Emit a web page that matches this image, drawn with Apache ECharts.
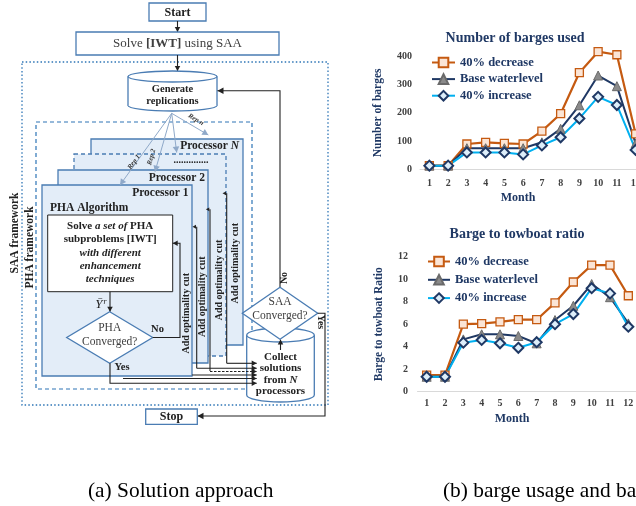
<!DOCTYPE html>
<html><head><meta charset="utf-8">
<script src="https://cdn.jsdelivr.net/npm/echarts/dist/echarts.min.js"></script>
<style>html,body{margin:0;padding:0;background:#fff}#c{width:636px;height:506px}</style>
</head><body><div id="c"></div>
<script>
// ---------- data ----------
const months = ['1','2','3','4','5','6','7','8','9','10','11','12'];
const seriesNames = ['40% decrease','Base waterlevel','40% increase'];
const bargesDecrease = [12,12,89,95,91,89,135,197,343,418,407,125];
const bargesBase     = [12,12,74,74,74,74,95,143,227,333,295,91];
const bargesIncrease = [12,12,59,59,59,52,84,113,180,257,228,68];
const ratioDecrease = [1.48,1.48,6.0,6.05,6.2,6.4,6.4,7.9,9.75,11.25,11.25,8.53];
const ratioBase     = [1.33,1.33,4.65,5.1,5.1,4.95,4.3,6.37,7.64,9.57,8.4,6.07];
const ratioIncrease = [1.33,1.33,4.36,4.6,4.3,3.9,4.4,6.0,6.9,9.2,8.74,5.78];
const chartTitles = ['Number of barges used','Barge to towboat ratio'];
const yNames = ['Number of barges','Barge to towboat Ratio'];
const xName = 'Month';
const captions = ['(a) Solution approach','(b) barge usage and barge to towboat ratio'];

// ---------- styles ----------
const SERIF = "'Liberation Serif','Times New Roman',serif";
const NAVY = '#1f3864';
const BLUE = '#4a7cb3';
const DOT = '#2e75b6';
const PFILL = '#e3edf8';
const INK = '#222';

// ---------- flowchart graphic ----------
const G = [];
let zc = 10;
function add(el){ el.z = zc++; G.push(el); return el; }
function rect(x,y,w,h,st){ return add({type:'rect', shape:{x:x,y:y,width:w,height:h}, style:Object.assign({fill:'#fff', stroke:BLUE, lineWidth:1.3}, st||{})}); }
function line(pts, st){ return add({type:'polyline', shape:{points:pts}, style:Object.assign({fill:null, stroke:INK, lineWidth:1.1}, st||{})}); }
function head(p0,p1,color,size){
  const dx=p1[0]-p0[0], dy=p1[1]-p0[1], L=Math.hypot(dx,dy), ux=dx/L, uy=dy/L;
  const s=size||5, w=s*0.55, bx=p1[0]-ux*s, by=p1[1]-uy*s;
  return add({type:'polygon', shape:{points:[[p1[0],p1[1]],[bx-uy*w,by+ux*w],[bx+uy*w,by-ux*w]]}, style:{fill:color||INK, stroke:null}});
}
function arrow(pts, st, hs){ line(pts, st); head(pts[pts.length-2], pts[pts.length-1], (st&&st.stroke)||INK, hs); }
function text(x,y,t,font,fill,extra){
  const st = {text:t, font:font, fill:fill||INK, align:'center', verticalAlign:'middle', textAlign:'center', textVerticalAlign:'middle'};
  if (extra && extra.style) Object.assign(st, extra.style);
  const el = {type:'text', x:x, y:y, style:st};
  if (extra && extra.rotation!==undefined) el.rotation = extra.rotation;
  return add(el);
}
function cylinder(x,y,w,h,ry){
  const cx=x+w/2, rx=w/2;
  add({type:'ellipse', shape:{cx:cx, cy:y+h-ry, rx:rx, ry:ry}, style:{fill:'#fff', stroke:BLUE, lineWidth:1.3}});
  add({type:'rect', shape:{x:x, y:y+ry, width:w, height:h-2*ry}, style:{fill:'#fff', stroke:null}});
  line([[x,y+ry],[x,y+h-ry]], {stroke:BLUE, lineWidth:1.3});
  line([[x+w,y+ry],[x+w,y+h-ry]], {stroke:BLUE, lineWidth:1.3});
  add({type:'ellipse', shape:{cx:cx, cy:y+ry, rx:rx, ry:ry}, style:{fill:'#fff', stroke:BLUE, lineWidth:1.3}});
}
function diamond(cx,cy,hw,hh){
  add({type:'polygon', shape:{points:[[cx,cy-hh],[cx+hw,cy],[cx,cy+hh],[cx-hw,cy]]}, style:{fill:'#fff', stroke:BLUE, lineWidth:1.3}});
}
const B = (s)=>'bold '+s+'px '+SERIF;
const R = (s)=>s+'px '+SERIF;
const BI = (s)=>'italic bold '+s+'px '+SERIF;

// Start / Solve
rect(149,3,57,18);
text(177.5,12.5,'Start',B(12));
arrow([[177.5,21],[177.5,32]],null,5);
rect(76,32,203,23);
text(177.5,44,'{r|Solve }{b|[IWT]}{r| using SAA}',R(13),'#404040',{style:{rich:{r:{font:R(13),fill:'#404040'},b:{font:B(13),fill:'#404040'}}}});
// SAA framework box
rect(22,62,306,343,{fill:null, stroke:DOT, lineDash:[1.5,2.2], lineWidth:1.3});
arrow([[177.5,55],[177.5,71]],null,5);
// Generate replications
cylinder(128,71,89,40,5.5);
text(172.5,89,'Generate',B(10.5));
text(172.5,101.5,'replications',B(10.5));
// return arrow (No)
arrow([[280,287],[280,90.7],[217.5,90.7]],null,6);
// PHA framework box
rect(36,122,216,267,{fill:null, stroke:DOT, lineDash:[4,3], lineWidth:1.2});
// processors
rect(91,139,152,206,{fill:PFILL});
text(239,146.5,'{b|Processor }{i|N}',B(11.5),INK,{style:{align:'right',textAlign:'right',rich:{b:{font:B(11.5)},i:{font:BI(11.5)}}}});
rect(74,154,152,202,{fill:PFILL, lineDash:[4,3]});
text(191,160.5,'..............',B(10));
rect(58,170,150,193,{fill:PFILL});
text(205,178.5,'Processor 2',B(11.5),INK,{style:{align:'right',textAlign:'right'}});
rect(42,185,150,191,{fill:PFILL});
text(188.5,193,'Processor 1',B(11.5),INK,{style:{align:'right',textAlign:'right'}});
// per-processor optimality-cut lines
line([[226.7,193.3],[226.7,363.3]]); head([226.7,193.3],[222.5,193.3],INK,3.5);
line([[210,209.3],[210,371]]); head([210,209.3],[205.8,209.3],INK,3.5);
line([[196.7,226.7],[196.7,368.3]]); head([196.7,226.7],[192.5,226.7],INK,3.5);
text(235.3,263.3,'Add optimality cut',B(10),INK,{rotation:Math.PI/2});
text(219.3,280,'Add optimality cut',B(10),INK,{rotation:Math.PI/2});
text(202.7,296.7,'Add optimality cut',B(10),INK,{rotation:Math.PI/2});
text(186.7,313.3,'Add optimality cut',B(10),INK,{rotation:Math.PI/2});
// PHA algorithm
text(50,208.5,'PHA Algorithm',B(11.5),INK,{style:{align:'left',textAlign:'left'}});
rect(47.7,215,125,76.7,{stroke:INK, lineWidth:1});
const ir = {b:{font:B(11)}, i:{font:BI(11)}};
text(110.2,226,'{b|Solve }{i|a set of}{b| PHA}',B(11),INK,{style:{rich:ir}});
text(110.2,239.3,'subproblems [IWT]',B(11));
text(110.2,252.7,'with different',BI(11));
text(110.2,266,'enhancement',BI(11));
text(110.2,279.3,'techniques',BI(11));
text(101,305,'{y|Ȳ}{s|r}',R(12),INK,{style:{rich:{y:{font:'italic 13px '+SERIF},s:{font:'italic 8px '+SERIF, verticalAlign:'top', padding:[0,0,6,1]}}}});
arrow([[110,291.7],[110,311.7]],null,5);
diamond(109.7,337.5,43,25.8);
text(109.7,328.3,'PHA',R(11.5),'#404040');
text(109.7,342,'Converged?',R(11.5),'#404040');
text(157.5,329.5,'No',B(10.5));
arrow([[152.7,337.5],[180,337.5],[180,243.3],[172.7,243.3]],null,5);
text(122,367.5,'Yes',B(10.5));
// collect solutions
cylinder(246.7,328,67.6,74,7);
arrow([[226.7,363.3],[256.7,363.3]],null,5);
arrow([[196.7,368.3],[256.7,368.3]],null,5);
arrow([[210,371.5],[256.7,371.5]],{lineDash:[2.5,1.5]},5);
arrow([[192,375],[256.7,375]],null,5);
arrow([[123,378.5],[256.7,378.5]],null,5);
arrow([[110,363.3],[110,383.3],[256.7,383.3]],null,5);
text(280.5,357.3,'Collect',B(11));
text(280.5,368.5,'solutions',B(11));
text(280.5,380,'{b|from }{i|N}',B(11),INK,{style:{rich:{b:{font:B(11)},i:{font:BI(11)}}}});
text(280.5,391,'processors',B(11));
arrow([[280.5,350],[280.5,339.5]],null,5);
// SAA converged
diamond(280,313.3,37.7,26);
text(280,301.7,'SAA',R(11.5),'#404040');
text(280,315.5,'Converged?',R(11.5),'#404040');
text(284.5,278,'No',B(10),INK,{rotation:Math.PI/2});
text(321,322,'Yes',B(10),INK,{rotation:-Math.PI/2});
arrow([[317.7,313.3],[325,313.3],[325,416],[197.5,416]],null,6);
// Stop
rect(145.7,409,51.6,15.3);
text(171.5,417,'Stop',B(12));
// replication arrows
const RC = '#8fa9c9';
arrow([[171.7,113.3],[120,185]],{stroke:RC,lineWidth:1},6);
arrow([[171.7,113.3],[155,171.7]],{stroke:RC,lineWidth:1},6);
arrow([[171.7,113.3],[176.7,152.5]],{stroke:RC,lineWidth:1},6);
arrow([[171.7,113.3],[208.3,135]],{stroke:RC,lineWidth:1},6);
text(134,162,'Rep 1',BI(7),'#333',{rotation:0.946});
text(151.5,157,'Rep 2',BI(7),'#333',{rotation:1.29});
text(196,119.5,'Rep n',BI(7),'#333',{rotation:-0.535});
// framework labels
text(15,233,'SAA framework',B(11.5),INK,{rotation:Math.PI/2});
text(30,247.5,'PHA framework',B(11.5),INK,{rotation:Math.PI/2});
// captions
text(88,491,captions[0],R(21.4),'#000',{style:{align:'left',textAlign:'left'}});
text(443,491,captions[1],R(21.4),'#000',{style:{align:'left',textAlign:'left'}});

// ---------- charts ----------
const tickLabel = {color:'#404040', fontFamily:SERIF, fontWeight:'bold', fontSize:10};
const nameStyle = {color:NAVY, fontFamily:SERIF, fontWeight:'bold', fontSize:12};
const legendText = {color:NAVY, fontFamily:SERIF, fontWeight:'bold', fontSize:12.5};
const styles = [
  {symbol:'rect', symbolSize:8, lineStyle:{color:'#c55a11', width:2.2}, itemStyle:{color:'#fbe5d6', borderColor:'#c55a11', borderWidth:1.3}},
  {symbol:'triangle', symbolSize:9, lineStyle:{color:NAVY, width:2}, itemStyle:{color:'#8a8a8a', borderColor:'#6a6a6a', borderWidth:1}},
  {symbol:'diamond', symbolSize:10, lineStyle:{color:'#00b0f0', width:2}, itemStyle:{color:'#ddeefa', borderColor:NAVY, borderWidth:2}}
];
const chartData = [[bargesDecrease,bargesBase,bargesIncrease],[ratioDecrease,ratioBase,ratioIncrease]];
const series = [];
chartData.forEach((set,ci)=>set.forEach((d,si)=>{
  series.push(Object.assign({name:seriesNames[si], type:'line', xAxisIndex:ci, yAxisIndex:ci, data:d, clip:false, showSymbol:true}, styles[si]));
}));

const option = {
  animation:false,
  backgroundColor:'#fff',
  title:[
    {text:chartTitles[0], left:510, top:26, textAlign:'center', textStyle:{color:NAVY, fontFamily:SERIF, fontWeight:'bold', fontSize:14}},
    {text:chartTitles[1], left:512, top:222, textAlign:'center', textStyle:{color:NAVY, fontFamily:SERIF, fontWeight:'bold', fontSize:14}}
  ],
  legend:[
    {orient:'vertical', left:426, top:51, itemWidth:23, itemHeight:12, itemGap:3.6, textStyle:legendText, data:seriesNames},
    {orient:'vertical', left:422, top:250, itemWidth:22, itemHeight:12, itemGap:5.3, textStyle:legendText, data:seriesNames}
  ],
  grid:[
    {left:420, top:56.7, width:225, height:112.3, outerBoundsMode:'none', containLabel:false},
    {left:417.5, top:256.7, width:220, height:135, outerBoundsMode:'none', containLabel:false}
  ],
  xAxis:[0,1].map(i=>({
    type:'category', gridIndex:i, data:months,
    axisLine:{lineStyle:{color:'#d9d9d9', width:1}}, axisTick:{show:false},
    axisLabel:Object.assign({margin:i?7:9}, tickLabel),
    name:xName, nameLocation:'middle', nameGap:i?21:23,
    nameTextStyle:Object.assign({padding:[0,i?31:29,0,0]}, nameStyle)
  })),
  yAxis:[
    {type:'value', gridIndex:0, min:0, max:400, interval:100, splitLine:{show:false}, axisLine:{show:false}, axisTick:{show:false},
     axisLabel:Object.assign({margin:8}, tickLabel), name:yNames[0], nameLocation:'middle', nameGap:36, nameTextStyle:Object.assign({}, nameStyle, {fontSize:11.5})},
    {type:'value', gridIndex:1, min:0, max:12, interval:2, splitLine:{show:false}, axisLine:{show:false}, axisTick:{show:false},
     axisLabel:Object.assign({margin:9.5}, tickLabel), name:yNames[1], nameLocation:'middle', nameGap:32, nameTextStyle:Object.assign({}, nameStyle, {fontSize:11.5})}
  ],
  series:series,
  graphic:{elements:G}
};
const chart = echarts.init(document.getElementById('c'), null, {renderer:'canvas'});
chart.setOption(option);
</script></body></html>
